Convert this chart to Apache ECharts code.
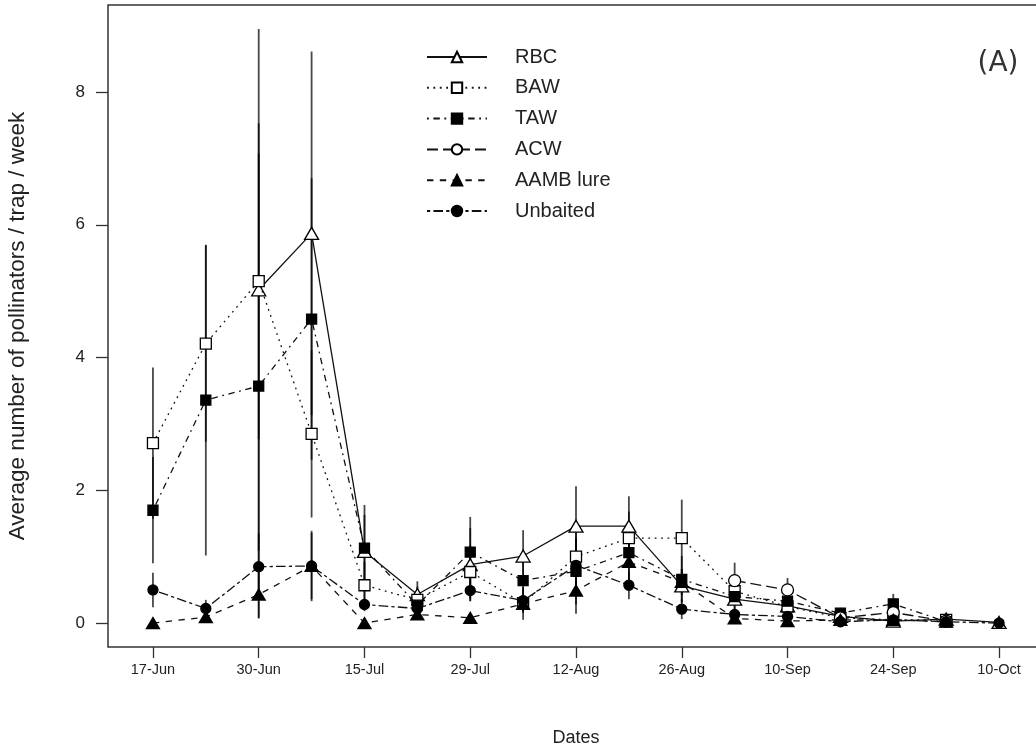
<!DOCTYPE html>
<html><head><meta charset="utf-8">
<script src="https://cdn.jsdelivr.net/npm/echarts@6/dist/echarts.min.js"></script>
<style>html,body{margin:0;padding:0;background:#fff}#c{width:1036px;height:750px}</style>
</head><body><div id="c"></div>
<script>
// 17 weekly sampling dates (index 0..16); labels shown at every other week
const tickPositions = [0, 2, 4, 6, 8, 10, 12, 14, 16];
const tickLabels = ['17-Jun', '30-Jun', '15-Jul', '29-Jul', '12-Aug', '26-Aug', '10-Sep', '24-Sep', '10-Oct'];
const yTicks = [0, 2, 4, 6, 8];

const seriesNames = ['RBC', 'BAW', 'TAW', 'ACW', 'AAMB lure', 'Unbaited'];

const rbc      = [null, null, 5.02, 5.87, 1.08, 0.43, 0.88, 1.01, 1.46, 1.46, 0.56, 0.36, 0.26, 0.10, 0.03, 0.06, 0.01];
const baw      = [2.71, 4.21, 5.15, 2.85, 0.57, 0.35, 0.77, 0.30, 1.00, 1.28, 1.28, 0.48, 0.25, 0.08, 0.05, 0.05, null];
const taw      = [1.70, 3.36, 3.57, 4.58, 1.13, 0.27, 1.07, 0.64, 0.78, 1.06, 0.66, 0.40, 0.33, 0.15, 0.29, 0.02, null];
const acw      = [null, null, null, null, null, null, null, null, null, null, null, 0.64, 0.50, 0.08, 0.16, 0.03, null];
const aamb     = [0.00, 0.09, 0.43, 0.86, 0.00, 0.13, 0.08, 0.29, 0.49, 0.92, 0.62, 0.07, 0.03, 0.05, 0.05, 0.02, null];
const unbaited = [0.50, 0.22, 0.85, 0.86, 0.28, 0.22, 0.49, 0.34, 0.87, 0.57, 0.21, 0.13, 0.10, 0.02, 0.05, 0.02, 0.00];

// error bar half-widths
const rbcErr      = [null, null, 3.93, 2.74, 0.70, 0.20, 0.55, 0.39, 0.60, 0.45, 0.25, 0.15, 0.10, 0.05, 0.03, 0.03, 0.01];
const bawErr      = [1.14, 1.48, 2.38, 1.26, 0.35, 0.20, 0.40, 0.25, 0.50, 0.40, 0.58, 0.20, 0.15, 0.05, 0.05, 0.03, null];
const tawErr      = [0.80, 2.34, 3.50, 2.12, 0.50, 0.15, 0.53, 0.30, 0.50, 0.40, 0.35, 0.20, 0.15, 0.08, 0.15, 0.02, null];
const acwErr      = [null, null, null, null, null, null, null, null, null, null, null, 0.27, 0.18, 0.05, 0.08, 0.03, null];
const aambErr     = [0.00, 0.05, 0.35, 0.53, 0.00, 0.05, 0.00, 0.13, 0.35, 0.30, 0.20, 0.05, 0.03, 0.03, 0.03, 0.01, null];
const unbaitedErr = [0.26, 0.13, 0.50, 0.50, 0.10, 0.16, 0.16, 0.18, 0.40, 0.21, 0.15, 0.06, 0.05, 0.02, 0.03, 0.01, 0.00];

const values = [rbc, baw, taw, acw, aamb, unbaited];
const errors = [rbcErr, bawErr, tawErr, acwErr, aambErr, unbaitedErr];

const styles = [
  {symbol: 'triangle', size: [14, 12], fill: '#fff', dash: 'solid'},
  {symbol: 'rect', size: 11, fill: '#fff', dash: [1.8, 4.6]},
  {symbol: 'rect', size: 10, fill: '#000', dash: [1.8, 4.6, 6.4, 4.6]},
  {symbol: 'circle', size: 12, fill: '#fff', dash: [11, 5]},
  {symbol: 'triangle', size: [13, 11], fill: '#000', dash: [6.4, 6.4]},
  {symbol: 'circle', size: 10, fill: '#000', dash: [3.2, 3.2, 9.6, 3.2]}
];

const sans = "'Liberation Sans',Arial,sans-serif";

function errRender(params, api) {
  const x = api.value(0), lo = api.value(1), hi = api.value(2);
  const p1 = api.coord([x, lo]), p2 = api.coord([x, hi]);
  return {type: 'line', shape: {x1: p1[0], y1: p1[1], x2: p2[0], y2: p2[1]},
          style: {stroke: 'rgba(0,0,0,0.72)', lineWidth: 1.8}};
}

const series = [];
values.forEach((vals, k) => {
  const errData = [];
  vals.forEach((v, i) => {
    const e = errors[k][i];
    if (v != null && e != null && e > 0) errData.push([i, v - e, v + e]);
  });
  series.push({
    type: 'custom', name: seriesNames[k] + ' SE', renderItem: errRender,
    data: errData, z: 1, silent: true, encode: {x: 0, y: [1, 2]}
  });
});
values.forEach((vals, k) => {
  const s = styles[k];
  series.push({
    type: 'line', name: seriesNames[k],
    data: vals.map((v, i) => [i, v]),
    connectNulls: false,
    symbol: s.symbol, symbolSize: s.size, showSymbol: true,
    itemStyle: {color: s.fill, borderColor: '#000', borderWidth: 1.3, opacity: 1},
    lineStyle: {color: '#111', width: 1.3, type: s.dash},
    emphasis: {disabled: true},
    z: 2 + k
  });
});

const chart = echarts.init(document.getElementById('c'), null, {renderer: 'canvas'});
chart.setOption({
  animation: false,
  backgroundColor: '#fff',
  grid: {left: 108, top: 5, width: 936, height: 642, outerBoundsMode: 'none', containLabel: false,
         show: true, borderColor: '#333', borderWidth: 1.5, backgroundColor: 'transparent'},
  legend: {
    data: seriesNames, orient: 'vertical', left: 421, top: 42,
    itemWidth: 60, itemHeight: 13, itemGap: 10.8,
    textStyle: {fontFamily: sans, fontSize: 20, color: '#222', padding: [0, 0, 0, 23]},
    selectedMode: false
  },
  xAxis: {
    type: 'value', min: -0.85, max: 16.85,
    axisLine: {show: false, onZero: false},
    splitLine: {show: false},
    axisTick: {show: true, customValues: tickPositions, length: 11, inside: false, lineStyle: {color: '#333', width: 1.3}},
    axisLabel: {customValues: tickPositions, margin: 15, fontFamily: sans, fontSize: 14.5, color: '#222',
      formatter: v => tickLabels[tickPositions.indexOf(Math.round(v))] || ''},
    name: 'Dates', nameLocation: 'middle', nameGap: 82,
    nameTextStyle: {fontFamily: sans, fontSize: 18, color: '#222'}
  },
  yAxis: {
    type: 'value', min: -0.36, max: 9.31,
    axisLine: {show: false, onZero: false},
    splitLine: {show: false},
    axisTick: {show: true, customValues: yTicks, length: 12, lineStyle: {color: '#333', width: 1.3}},
    axisLabel: {customValues: yTicks, margin: 23, fontFamily: sans, fontSize: 17, color: '#222'},
    name: 'Average number of pollinators / trap / week', nameLocation: 'middle', nameGap: 79,
    nameTextStyle: {fontFamily: sans, fontSize: 22.5, color: '#222'}
  },
  graphic: [{
    type: 'text', x: 998, y: 64,
    style: {text: '(A)', font: "28px 'DejaVu Sans'", fill: '#333', align: 'center', verticalAlign: 'middle'}
  }],
  series: series
});
</script>
</body></html>
